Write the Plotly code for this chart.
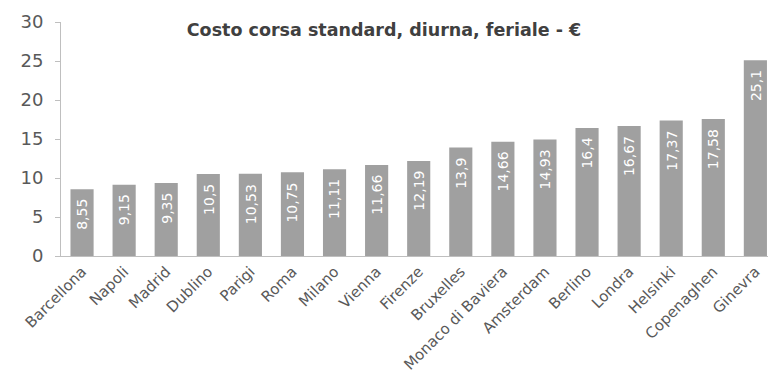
import plotly.graph_objects as go

cities = ["Barcellona", "Napoli", "Madrid", "Dublino", "Parigi", "Roma", "Milano", "Vienna",
          "Firenze", "Bruxelles", "Monaco di Baviera", "Amsterdam", "Berlino", "Londra",
          "Helsinki", "Copenaghen", "Ginevra"]
costs = [8.55, 9.15, 9.35, 10.5, 10.53, 10.75, 11.11, 11.66, 12.19, 13.9, 14.66, 14.93,
         16.4, 16.67, 17.37, 17.58, 25.1]
y_ticks = [0, 5, 10, 15, 20, 25, 30]
title_text = "Costo corsa standard, diurna, feriale - €"

labels = [f"{v:g}".replace(".", ",") for v in costs]

FONT = "DejaVu Sans, sans-serif"
GRAY_TXT = "#595959"

fig = go.Figure(go.Bar(
    x=cities, y=costs,
    marker=dict(color="#a0a0a0", line=dict(width=0)),
    width=0.55,
    cliponaxis=False,
))

for c, v, t in zip(cities, costs, labels):
    fig.add_annotation(x=c, y=v, text=t, showarrow=False, textangle=-90,
                       yanchor="top", xanchor="center", yshift=-8,
                       font=dict(color="white", size=14, family=FONT))

fig.update_layout(
    width=768, height=377,
    margin=dict(l=61, r=0, t=22, b=121),
    plot_bgcolor="white", paper_bgcolor="white",
    showlegend=False,
    font=dict(family=FONT, color=GRAY_TXT),
    title=dict(text="<b>" + title_text + "</b>", x=0.5, xanchor="center", xref="container",
               y=0.92, yanchor="middle", yref="container",
               font=dict(size=17.5, color="#404040", family=FONT)),
)
fig.update_xaxes(
    type="category", range=[-0.5, 16.3],
    tickangle=-45, tickfont=dict(size=15, color=GRAY_TXT),
    showline=True, linecolor="#bfbfbf", linewidth=1,
    ticks="", showgrid=False,
)
fig.update_yaxes(
    range=[0, 30], tickvals=y_ticks,
    tickfont=dict(size=18, color=GRAY_TXT),
    ticklabelstandoff=8,
    showline=True, linecolor="#bfbfbf", linewidth=1,
    ticks="outside", ticklen=5, tickcolor="#bfbfbf",
    showgrid=False, zeroline=False,
)

fig.write_html("out.html", config={"displayModeBar": False},
               post_script="document.body.style.margin='0px';")
